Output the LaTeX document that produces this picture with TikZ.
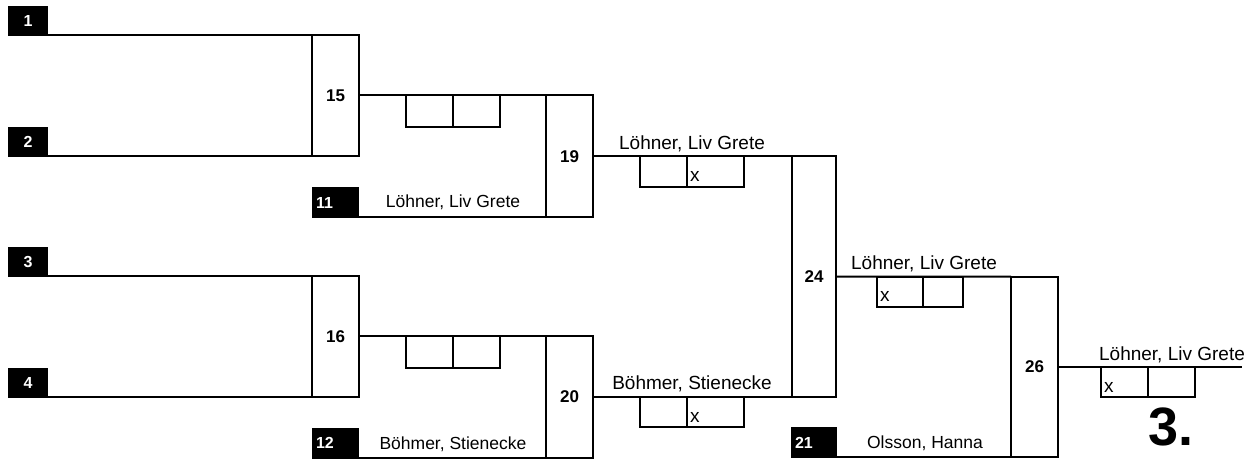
\documentclass[tikz,border=0pt]{standalone}
\usepackage{fontspec}
\setmainfont{Liberation Sans}
\tikzset{
  ln/.style={line width=2pt},
  every node/.style={outer sep=0pt},
  mbox/.style={draw, line width=2pt, inner sep=0pt, minimum width=47pt,
    font=\bfseries\fontsize{17}{20}\selectfont},
  sbox/.style={draw, line width=2pt, inner sep=0pt, minimum width=47pt},
  seedc/.style={fill=black, text=white, inner sep=0pt, minimum width=40pt, minimum height=30pt,
    font=\bfseries\fontsize{16}{19}\selectfont},
  seedl/.style={fill=black, text=white, inner ysep=0pt, inner xsep=4pt, text width=39pt,
    align=left, minimum height=31pt, font=\bfseries\fontsize{16}{19}\selectfont},
  bigname/.style={anchor=base, inner sep=0pt, font=\fontsize{19}{22}\selectfont},
  smallname/.style={anchor=base, inner sep=0pt, font=\fontsize{17.5}{20}\selectfont},
  xm/.style={anchor=base west, inner sep=0pt, font=\fontsize{19}{22}\selectfont},
}
\begin{document}
\begin{tikzpicture}[x=1pt,y=-1pt]
\useasboundingbox (0,0) rectangle (1251,462);
% upper half
\node[mbox, minimum height=121pt] (m15) at (335.5,95.5) {15};
\node[seedc] (s1) at (28,21) {1};
\node[seedc] (s2) at (28,142) {2};
\node[mbox, minimum height=121.5pt] (m19) at (569.5,156.25) {19};
\node[seedl] (s11) at (335.5,202.5) {11};
\node[sbox, minimum height=31.5pt] (b15a) at (429.5,111.25) {};
\node[sbox, minimum height=31.5pt] (b15b) at (476.5,111.25) {};
\node[smallname] (n11) at (453,208) {Löhner, Liv Grete};
% lower half
\node[mbox, minimum height=121pt] (m16) at (335.5,336.5) {16};
\node[seedc] (s3) at (28,262) {3};
\node[seedc] (s4) at (28,383) {4};
\node[mbox, minimum height=121pt] (m20) at (569.5,397) {20};
\node[seedl] (s12) at (335.5,443) {12};
\node[sbox, minimum height=31.5pt] (b16a) at (429.5,352.25) {};
\node[sbox, minimum height=31.5pt] (b16b) at (476.5,352.25) {};
\node[smallname] (n12) at (453,449) {Böhmer, Stienecke};
% round 3
\node[mbox, minimum width=44pt, minimum height=240.75pt] (m24) at (814,276.625) {24};
\node[sbox, minimum height=30.75pt] (b19a) at (663.5,171.6) {};
\node[sbox, minimum width=57pt, minimum height=30.75pt] (b19b) at (715.5,171.6) {};
\node[xm] (x19) at ([shift={(3pt,5pt)}]b19b.south west) {x};
\node[bigname] (n19) at (692,150) {Löhner, Liv Grete};
\node[sbox, minimum height=30pt] (b20a) at (663.5,412) {};
\node[sbox, minimum width=57pt, minimum height=30pt] (b20b) at (715.5,412) {};
\node[xm] (x20) at ([shift={(3pt,5pt)}]b20b.south west) {x};
\node[bigname] (n20) at (692,390) {Böhmer, Stienecke};
% round 4
\node[mbox, minimum height=180.375pt] (m26) at (1034.5,366.8) {26};
\node[seedl, text width=38pt, minimum height=31pt] (s21) at (814,442.5) {21};
\node[smallname] (n21) at (925,448) {Olsson, Hanna};
\node[sbox, minimum width=46pt, minimum height=30.4pt] (b24a) at (900,291.8) {};
\node[sbox, minimum width=40pt, minimum height=30.4pt] (b24b) at (943,291.8) {};
\node[xm] (x24) at ([shift={(3pt,5pt)}]b24a.south west) {x};
\node[bigname] (n24) at (924,270) {Löhner, Liv Grete};
% final
\coordinate (fin) at (1242,366.8);
\node[sbox, minimum height=30.2pt] (b26a) at (1124.5,381.9) {};
\node[sbox, minimum height=30.2pt] (b26b) at (1171.5,381.9) {};
\node[xm] (x26) at ([shift={(3pt,5pt)}]b26a.south west) {x};
\node[bigname] (n26) at (1172,361) {Löhner, Liv Grete};
\node[anchor=base west, inner sep=0pt, font=\bfseries\fontsize{54}{60}\selectfont] (place) at (1148,445) {3.};
% connectors
\draw[ln] (s1.east |- m15.north west) -- (m15.north west);
\draw[ln] (s2.east |- m15.south west) -- (m15.south west);
\draw[ln] (m15.east) -- (m19.north west);
\draw[ln] (s11.east |- m19.south west) -- (m19.south west);
\draw[ln] (s3.east |- m16.north west) -- (m16.north west);
\draw[ln] (s4.east |- m16.south west) -- (m16.south west);
\draw[ln] (m16.east) -- (m20.north west);
\draw[ln] (s12.east |- m20.south west) -- (m20.south west);
\draw[ln] (m19.east) -- (m24.north west);
\draw[ln] (m20.east) -- (m24.south west);
\draw[ln] (m24.east) -- (m26.north west);
\draw[ln] (s21.east |- m26.south west) -- (m26.south west);
\draw[ln] (m26.east) -- (fin);
\end{tikzpicture}
\end{document}
